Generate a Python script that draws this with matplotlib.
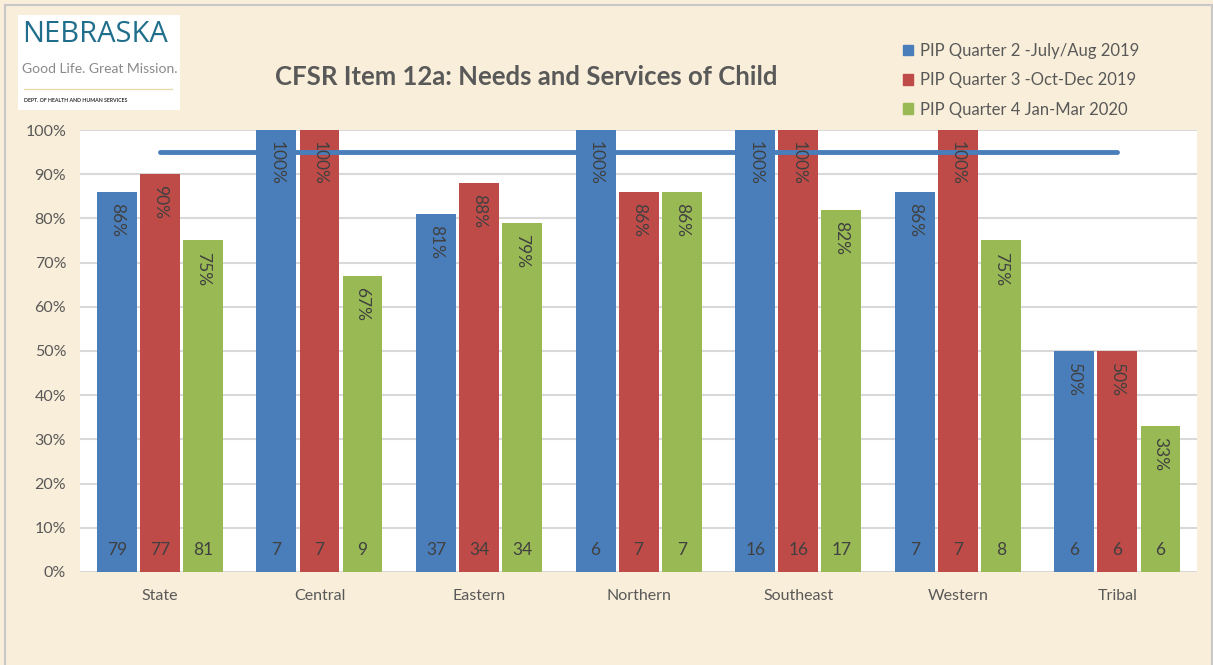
import matplotlib.pyplot as plt
import matplotlib.patches as mpatches
import numpy as np

plt.rcParams['font.family'] = ['Lato', 'DejaVu Sans']

regions = ['State', 'Central', 'Eastern', 'Northern', 'Southeast', 'Western', 'Tribal']
series_names = ['PIP Quarter 2 -July/Aug 2019',
                'PIP Quarter 3 -Oct-Dec 2019',
                'PIP Quarter 4 Jan-Mar 2020']
q2_pct = [86, 100, 81, 100, 100, 86, 50]
q3_pct = [90, 100, 88, 86, 100, 100, 50]
q4_pct = [75, 67, 79, 86, 82, 75, 33]
q2_n = [79, 7, 37, 6, 16, 7, 6]
q3_n = [77, 7, 34, 7, 16, 7, 6]
q4_n = [81, 9, 34, 7, 17, 8, 6]
target = [95, 95, 95, 95, 95, 95, 95]

colors = ['#4a7ebb', '#be4b48', '#98b954']
bg = '#f9eed9'
txt = '#404040'

fig = plt.figure(figsize=(12.13, 6.65), dpi=100, facecolor=bg)
fig.patches.append(mpatches.Rectangle((0.004, -0.01), 0.995, 1.002, transform=fig.transFigure,
                                      fill=False, edgecolor='#c8c8c8', linewidth=1.5))
ax = fig.add_axes([0.066, 0.140, 0.921, 0.6645])
ax.set_facecolor('white')

x = np.arange(len(regions))
off = 0.27
w = 0.25
for k, (pct, n) in enumerate([(q2_pct, q2_n), (q3_pct, q3_n), (q4_pct, q4_n)]):
    xs = x + (k - 1) * off
    ax.bar(xs, pct, width=w, color=colors[k], zorder=2)
    for xi, p, c in zip(xs, pct, n):
        ax.annotate(f'{p}%', (xi, p), xytext=(0, -8), textcoords='offset points',
                    rotation=270, ha='center', va='top', fontsize=12.5,
                    color=txt, zorder=5)
        ax.text(xi, 5, str(c), ha='center', va='center', fontsize=12.5,
                color=txt, zorder=5)

ax.plot(x, target, color='#4a7ebb', linewidth=3.5, zorder=3, solid_capstyle='round')

ax.set_xlim(-0.5, len(regions) - 0.5)
ax.set_ylim(0, 100)
ax.set_yticks(range(0, 101, 10))
ax.set_yticklabels([f'{v}%' for v in range(0, 101, 10)])
ax.set_xticks(x)
ax.set_xticklabels(regions)
ax.tick_params(length=0, labelsize=11.5, labelcolor='#595959')
ax.tick_params(axis='x', pad=12)
ax.tick_params(axis='y', pad=10)
ax.grid(axis='y', color='#d9d9d9', linewidth=1.5, zorder=0)
ax.set_axisbelow(True)
for s in ax.spines.values():
    s.set_visible(False)

fig.text(0.434, 0.884, 'CFSR Item 12a: Needs and Services of Child', ha='center', va='center',
         fontsize=18.5, fontweight='bold', color='#595959')

handles = [mpatches.Patch(color=c) for c in colors]
fig.legend(handles, series_names, loc='upper left', bbox_to_anchor=(0.732, 0.958),
           frameon=False, fontsize=12, handlelength=0.6, handleheight=0.6,
           handletextpad=0.4, labelspacing=0.8, labelcolor='#595959')

# logo
fig.patches.append(mpatches.Rectangle((18 / 1213, 1 - 110 / 665), 162 / 1213, 95 / 665,
                                      transform=fig.transFigure, facecolor='white',
                                      edgecolor='none'))
fig.text(22 / 1213, 1 - 35 / 665, 'NEBRASKA', ha='left', va='center', fontsize=21,
         color='#1f6e8c', family=['Open Sans', 'DejaVu Sans'])
fig.text(22 / 1213, 1 - 69 / 665, 'Good Life. Great Mission.', ha='left', va='center',
         fontsize=10, color='#8a8a8a')
fig.lines.append(plt.Line2D([24 / 1213, 172 / 1213], [1 - 89 / 665, 1 - 89 / 665],
                            transform=fig.transFigure, color='#e8dcae', linewidth=1))
fig.text(24 / 1213, 1 - 100 / 665, 'DEPT. OF HEALTH AND HUMAN SERVICES', ha='left', va='center',
         fontsize=3.8, fontweight='bold', color='#333333')

fig.savefig('out.png', dpi=100, facecolor=bg)
